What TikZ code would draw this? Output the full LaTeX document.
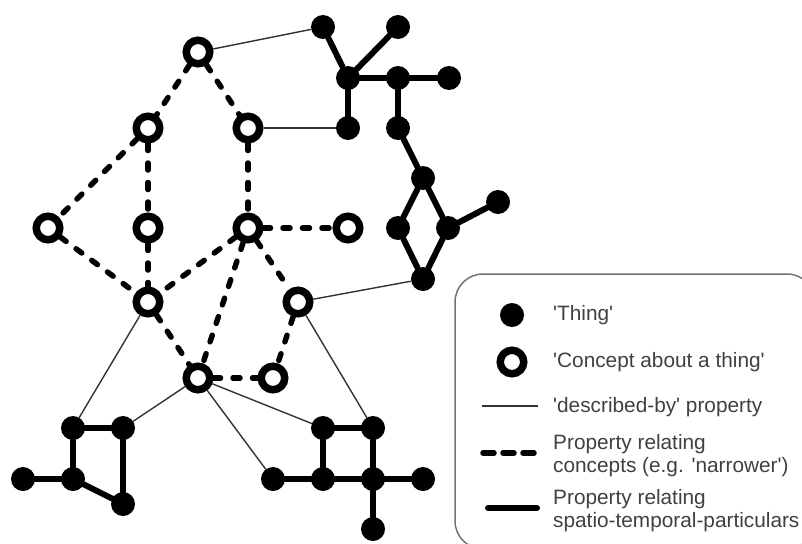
\documentclass[tikz,border=0pt]{standalone}
\usepackage{fontspec}
\setmainfont{Liberation Sans}[Ligatures=TeXOff]
\begin{document}
\begin{tikzpicture}[x=1pt,y=-1pt,
  thing/.style={circle,fill=black,minimum size=24pt,inner sep=0pt,outer sep=0pt},
  concept/.style={circle,draw=black,fill=white,line width=7.5pt,minimum size=23.5pt,inner sep=0pt},
  descr/.style={line width=1.4pt,draw=black!80},
  narrower/.style={line width=5.5pt,line cap=round,dash pattern=on 7pt off 12.5pt},
  particular/.style={line width=6pt,line cap=round},
  legendtext/.style={anchor=west,inner sep=0pt,font=\fontsize{20.8}{23}\selectfont,text=black!75,align=left},
  legendbox/.style={rounded corners=28pt,draw=black!55,line width=1.5pt}]
\useasboundingbox (0,0) rectangle (802,543);
% legend frame (partly cut off by the picture edge)
\begin{scope}
  \clip (0,0) rectangle (802,543);
  \draw[legendbox] (455,274) rectangle (815,549);
\end{scope}
% concepts
\node[concept] (c1) at (198,52) {};
\node[concept] (c2) at (148,128) {};
\node[concept] (c3) at (248,128) {};
\node[concept] (c4) at (48,228) {};
\node[concept] (c5) at (148,228) {};
\node[concept] (c6) at (248,228) {};
\node[concept] (c7) at (348,228) {};
\node[concept] (c8) at (148,302) {};
\node[concept] (c9) at (298,302) {};
\node[concept] (c10) at (198,378) {};
\node[concept] (c11) at (273,378) {};
% things, top right
\node[thing] (t1) at (323,27) {};
\node[thing] (t2) at (398,27) {};
\node[thing] (t3) at (348,78) {};
\node[thing] (t4) at (398,78) {};
\node[thing] (t5) at (449,78) {};
\node[thing] (t6) at (348,128) {};
\node[thing] (t7) at (398,128) {};
\node[thing] (t8) at (423,178) {};
\node[thing] (t9) at (398,228) {};
\node[thing] (t10) at (448,228) {};
\node[thing] (t11) at (498,202) {};
\node[thing] (t12) at (423,279) {};
% things, bottom left
\node[thing] (b1) at (73,428) {};
\node[thing] (b2) at (123,428) {};
\node[thing] (b3) at (23,479) {};
\node[thing] (b4) at (73,479) {};
\node[thing] (b5) at (123,504) {};
% things, bottom right
\node[thing] (r1) at (323,428) {};
\node[thing] (r2) at (373,428) {};
\node[thing] (r3) at (273,479) {};
\node[thing] (r4) at (323,479) {};
\node[thing] (r5) at (373,479) {};
\node[thing] (r6) at (423,479) {};
\node[thing] (r7) at (373,529) {};
% described-by
\draw[descr] (c1) -- (t1);
\draw[descr] (c3) -- (t6);
\draw[descr] (c9) -- (t12);
\draw[descr] (c8) -- (b1);
\draw[descr] (c10) -- (b2);
\draw[descr] (c10) -- (r3);
\draw[descr] (c10) -- (r1);
\draw[descr] (c9) -- (r2);
% concept relations
\draw[narrower] (c1) -- (c2);
\draw[narrower] (c1) -- (c3);
\draw[narrower] (c2) -- (c4);
\draw[narrower] (c2) -- (c5);
\draw[narrower] (c3) -- (c6);
\draw[narrower] (c4) -- (c8);
\draw[narrower] (c5) -- (c8);
\draw[narrower] (c6) -- (c8);
\draw[narrower] (c6) -- (c7);
\draw[narrower] (c6) -- (c9);
\draw[narrower] (c6) -- (c10);
\draw[narrower] (c8) -- (c10);
\draw[narrower] (c9) -- (c11);
\draw[narrower] (c10) -- (c11);
% particulars
\draw[particular] (t1) -- (t3);
\draw[particular] (t2) -- (t3);
\draw[particular] (t3) -- (t4);
\draw[particular] (t4) -- (t5);
\draw[particular] (t3) -- (t6);
\draw[particular] (t4) -- (t7);
\draw[particular] (t7) -- (t8);
\draw[particular] (t8) -- (t9);
\draw[particular] (t8) -- (t10);
\draw[particular] (t10) -- (t11);
\draw[particular] (t9) -- (t12);
\draw[particular] (t10) -- (t12);
\draw[particular] (b1) -- (b2);
\draw[particular] (b1) -- (b4);
\draw[particular] (b2) -- (b5);
\draw[particular] (b3) -- (b4);
\draw[particular] (b4) -- (b5);
\draw[particular] (r1) -- (r2);
\draw[particular] (r1) -- (r4);
\draw[particular] (r2) -- (r5);
\draw[particular] (r3) -- (r4);
\draw[particular] (r4) -- (r5);
\draw[particular] (r5) -- (r6);
\draw[particular] (r5) -- (r7);
% legend
\node[thing] (lt) at (512,315) {};
\node[legendtext] (ltt) at (553,315) {'Thing'};
\node[concept] (lc) at (512,362) {};
\node[legendtext] (lct) at (553,362) {'Concept about a thing'};
\coordinate (ld1) at (482,406);
\coordinate (ld2) at (538,406);
\draw[descr] (ld1) -- (ld2);
\node[legendtext] (ldt) at (553,407) {'described-by' property};
\coordinate (ln1) at (483,453);
\coordinate (ln2) at (540,453);
\draw[narrower,dash pattern=on 11pt off 9pt] (ln1) -- (ln2);
\node[legendtext] (lnt) at (553,456) {Property relating\\concepts (e.g. 'narrower')};
\coordinate (lp1) at (488,508);
\coordinate (lp2) at (537,508);
\draw[particular] (lp1) -- (lp2);
\node[legendtext] (lpt) at (553,511) {Property relating\\spatio-temporal-particulars};
\end{tikzpicture}
\end{document}
